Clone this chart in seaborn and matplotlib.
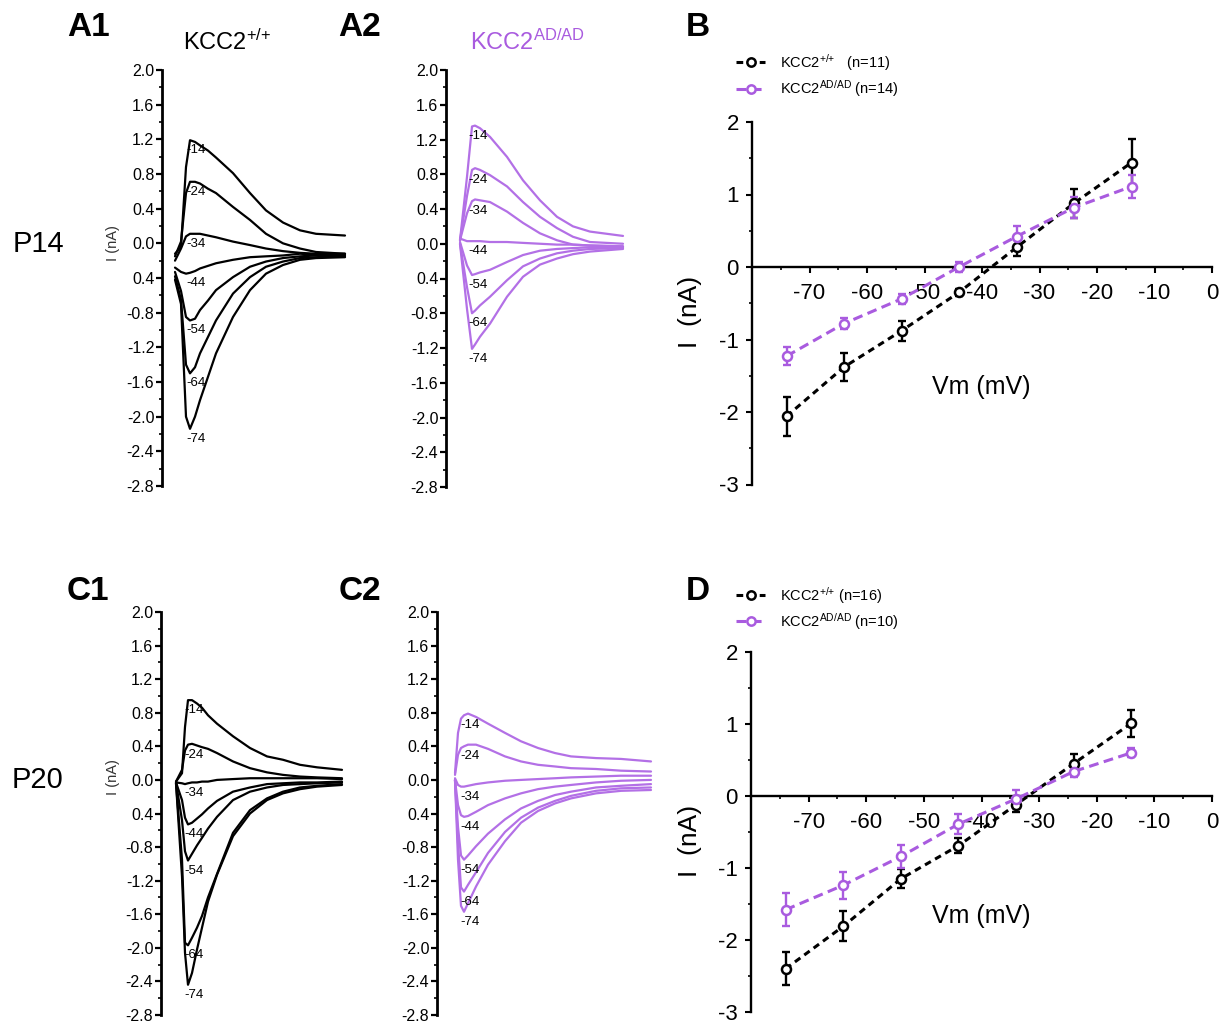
import numpy as np
import pandas as pd
import matplotlib
matplotlib.use("Agg")
import matplotlib.pyplot as plt
import seaborn as sns
from matplotlib.lines import Line2D
from matplotlib.ticker import FixedLocator, FixedFormatter, MultipleLocator

sns.set_theme(style="ticks")
plt.rcParams["font.family"] = ["Liberation Sans", "DejaVu Sans"]
plt.rcParams["mathtext.fontset"] = "custom"
plt.rcParams["mathtext.rm"] = "Liberation Sans"
plt.rcParams["mathtext.default"] = "regular"
plt.rcParams["axes.unicode_minus"] = False
plt.rcParams["text.color"] = "black"
plt.rcParams["axes.labelcolor"] = "black"

PURPLE = "#A95BDF"
TRACE_PURPLE = "#B370E6"

# voltage step of each trace (mV), top to bottom
steps = [-14, -24, -34, -44, -54, -64, -74]

# trace axis ticks (the -0.4 tick is printed without its minus sign in the original)
trace_ticks = [2.0, 1.6, 1.2, 0.8, 0.4, 0.0, -0.4, -0.8, -1.2, -1.6, -2.0, -2.4, -2.8]
trace_ticklabels = ["2.0", "1.6", "1.2", "0.8", "0.4", "0.0", "0.4", "-0.8",
                    "-1.2", "-1.6", "-2.0", "-2.4", "-2.8"]

# ---- A1: KCC2+/+ at P14 (time in ms, current in nA)
a1_t = [13, 19, 24, 28, 33, 38, 46, 54, 71, 88, 104, 121, 138, 154, 183]
a1_i = [
    [-0.12, -0.04, 0.88, 1.19, 1.17, 1.13, 1.07, 0.99, 0.81, 0.58, 0.38, 0.24, 0.15, 0.11, 0.09],
    [-0.15, 0.02, 0.58, 0.71, 0.71, 0.69, 0.63, 0.58, 0.42, 0.27, 0.11, 0.00, -0.06, -0.10, -0.12],
    [-0.20, -0.06, 0.08, 0.11, 0.11, 0.11, 0.09, 0.07, 0.02, -0.02, -0.06, -0.09, -0.11, -0.12, -0.12],
    [-0.28, -0.33, -0.35, -0.34, -0.32, -0.29, -0.26, -0.23, -0.19, -0.16, -0.15, -0.14, -0.12, -0.13, -0.13],
    [-0.33, -0.55, -0.85, -0.89, -0.87, -0.77, -0.66, -0.54, -0.39, -0.27, -0.21, -0.17, -0.15, -0.14, -0.14],
    [-0.38, -0.65, -1.40, -1.50, -1.43, -1.27, -1.08, -0.89, -0.58, -0.39, -0.27, -0.21, -0.17, -0.16, -0.15],
    [-0.42, -0.70, -2.00, -2.14, -2.00, -1.81, -1.54, -1.27, -0.85, -0.54, -0.35, -0.25, -0.19, -0.17, -0.16],
]

# ---- A2: KCC2AD/AD at P14
a2_t = [14, 21, 26, 29, 34, 44, 61, 77, 94, 111, 127, 144, 177]
a2_i = [
    [0.04, 0.77, 1.35, 1.36, 1.33, 1.23, 1.00, 0.73, 0.50, 0.31, 0.20, 0.14, 0.09],
    [0.04, 0.55, 0.85, 0.87, 0.85, 0.79, 0.66, 0.48, 0.31, 0.18, 0.08, 0.02, 0.00],
    [0.04, 0.35, 0.49, 0.51, 0.50, 0.48, 0.37, 0.24, 0.12, 0.04, -0.01, -0.02, -0.03],
    [0.06, 0.03, 0.03, 0.03, 0.03, 0.02, 0.02, 0.01, 0.00, -0.01, -0.01, -0.02, -0.03],
    [0.02, -0.25, -0.36, -0.35, -0.33, -0.30, -0.21, -0.13, -0.08, -0.06, -0.05, -0.04, -0.04],
    [0.00, -0.50, -0.80, -0.77, -0.71, -0.61, -0.42, -0.26, -0.17, -0.11, -0.08, -0.06, -0.05],
    [0.00, -0.75, -1.21, -1.16, -1.07, -0.92, -0.61, -0.38, -0.24, -0.17, -0.12, -0.09, -0.06],
]

# ---- C1: KCC2+/+ at P20
c1_t = [15, 21, 24, 27, 31, 36, 41, 47, 56, 72, 89, 106, 122, 139, 156, 181]
c1_i = [
    [-0.02, 0.08, 0.63, 0.95, 0.95, 0.91, 0.86, 0.77, 0.67, 0.52, 0.38, 0.28, 0.24, 0.18, 0.15, 0.12],
    [-0.02, 0.12, 0.35, 0.42, 0.43, 0.41, 0.39, 0.37, 0.32, 0.22, 0.14, 0.09, 0.06, 0.04, 0.03, 0.02],
    [-0.03, -0.04, -0.05, -0.04, -0.03, -0.03, -0.02, -0.02, 0.00, 0.01, 0.02, 0.02, 0.02, 0.02, 0.02, 0.01],
    [-0.03, -0.24, -0.45, -0.53, -0.51, -0.46, -0.41, -0.34, -0.25, -0.14, -0.09, -0.05, -0.04, -0.03, -0.03, -0.02],
    [-0.03, -0.48, -0.85, -0.96, -0.88, -0.78, -0.69, -0.58, -0.44, -0.24, -0.14, -0.09, -0.06, -0.05, -0.04, -0.03],
    [-0.04, -0.95, -1.94, -1.97, -1.88, -1.76, -1.62, -1.40, -1.12, -0.63, -0.36, -0.22, -0.14, -0.09, -0.07, -0.05],
    [-0.04, -1.15, -2.06, -2.44, -2.30, -2.02, -1.76, -1.45, -1.13, -0.67, -0.40, -0.24, -0.16, -0.11, -0.08, -0.06],
]

# ---- C2: KCC2AD/AD at P20
c2_t = [18, 21, 24, 27, 31, 39, 51, 68, 84, 101, 118, 134, 159, 184, 214]
c2_i = [
    [0.08, 0.56, 0.73, 0.77, 0.79, 0.75, 0.67, 0.56, 0.46, 0.38, 0.32, 0.28, 0.26, 0.25, 0.22],
    [0.06, 0.30, 0.38, 0.40, 0.42, 0.42, 0.37, 0.28, 0.22, 0.18, 0.16, 0.14, 0.13, 0.11, 0.10],
    [0.02, -0.06, -0.08, -0.08, -0.07, -0.05, -0.03, -0.01, 0.00, 0.01, 0.02, 0.03, 0.04, 0.05, 0.05],
    [0.00, -0.30, -0.42, -0.44, -0.43, -0.38, -0.30, -0.22, -0.16, -0.11, -0.08, -0.06, -0.03, -0.01, 0.00],
    [0.00, -0.56, -0.90, -0.95, -0.90, -0.79, -0.64, -0.47, -0.34, -0.25, -0.18, -0.14, -0.09, -0.07, -0.05],
    [0.00, -0.75, -1.28, -1.33, -1.25, -1.10, -0.87, -0.62, -0.45, -0.33, -0.25, -0.19, -0.13, -0.10, -0.09],
    [0.00, -0.95, -1.50, -1.57, -1.47, -1.27, -1.01, -0.73, -0.51, -0.37, -0.28, -0.22, -0.16, -0.13, -0.12],
]

# ---- I-V curves (mean +/- SEM, nA)
vm = [-74, -64, -54, -44, -34, -24, -14]
b_wt = [-2.06, -1.38, -0.88, -0.35, 0.27, 0.88, 1.44]
b_wt_sem = [0.27, 0.19, 0.14, 0.05, 0.12, 0.20, 0.32]
b_ad = [-1.23, -0.78, -0.44, 0.00, 0.42, 0.82, 1.11]
b_ad_sem = [0.12, 0.07, 0.07, 0.07, 0.14, 0.14, 0.16]
d_wt = [-2.40, -1.81, -1.15, -0.69, -0.12, 0.45, 1.01]
d_wt_sem = [0.23, 0.21, 0.13, 0.10, 0.10, 0.13, 0.19]
d_ad = [-1.58, -1.24, -0.84, -0.39, -0.04, 0.34, 0.60]
d_ad_sem = [0.23, 0.19, 0.16, 0.14, 0.12, 0.08, 0.06]

W, H = 1223, 1025
fig = plt.figure(figsize=(W / 100, H / 100), dpi=100)


def box(l, t, r, b):
    return [l / W, 1 - b / H, (r - l) / W, (b - t) / H]


def fx(x):
    return x / W


def fy(y):
    return 1 - y / H


def trace_panel(rect, t, currents, color, xmax, pk):
    ax = fig.add_axes(rect)
    df = pd.DataFrame({
        "t": np.tile(t, len(steps)),
        "I": np.concatenate(currents),
        "step": np.repeat(steps, len(t)),
    })
    sns.lineplot(data=df, x="t", y="I", units="step", estimator=None, sort=False,
                 color=color, linewidth=1.6, ax=ax, legend=False)
    for s, cur in zip(steps, currents):
        ax.annotate(str(s), xy=(t[pk], cur[pk]), xytext=(6, -10),
                    textcoords="offset pixels", ha="center", va="center",
                    fontsize=9.5, color="black")
    ax.set_xlim(0, xmax)
    ax.set_ylim(-2.8, 2.0)
    ax.set_xlabel("")
    ax.set_ylabel("")
    ax.set_xticks([])
    for side in ["top", "right", "bottom"]:
        ax.spines[side].set_visible(False)
    ax.spines["left"].set_linewidth(2.0)
    ax.spines["left"].set_color("black")
    ax.yaxis.set_major_locator(FixedLocator(trace_ticks))
    ax.yaxis.set_major_formatter(FixedFormatter(trace_ticklabels))
    ax.yaxis.set_minor_locator(MultipleLocator(0.2))
    ax.tick_params(axis="y", which="major", length=4, width=1.6, pad=1.5,
                   labelsize=11.5, colors="black", direction="out")
    ax.tick_params(axis="y", which="minor", length=2.2, width=1.4, direction="out")
    ax.set_facecolor("none")
    return ax


def iv_panel(rect, wt, wt_sem, ad, ad_sem):
    ax = fig.add_axes(rect)
    for vals, sem, c, dash in [(wt, wt_sem, "black", (2.2, 1.6)),
                               (ad, ad_sem, PURPLE, (3.2, 1.8))]:
        ax.errorbar(vm, vals, yerr=sem, fmt="none", ecolor=c, elinewidth=1.7,
                    capsize=2.6, capthick=1.7, zorder=3)
        sns.lineplot(x=vm, y=vals, ax=ax, color=c, linewidth=2.2,
                     linestyle=(0, dash), marker="o", markersize=6.5,
                     markerfacecolor="white", markeredgecolor=c,
                     markeredgewidth=1.8, zorder=4)
    ax.set_xlim(-80, 0)
    ax.set_ylim(-3, 2)
    ax.set_xlabel("")
    ax.set_ylabel("")
    for side in ["top", "right"]:
        ax.spines[side].set_visible(False)
    ax.spines["bottom"].set_position(("data", 0))
    for side in ["left", "bottom"]:
        ax.spines[side].set_linewidth(1.7)
        ax.spines[side].set_color("black")
    ax.xaxis.set_major_locator(FixedLocator([-70, -60, -50, -40, -30, -20, -10, 0]))
    ax.xaxis.set_minor_locator(FixedLocator([-75, -65, -55, -45, -35, -25, -15, -5]))
    ax.yaxis.set_major_locator(FixedLocator([-3, -2, -1, 0, 1, 2]))
    ax.yaxis.set_minor_locator(FixedLocator([-2.5, -1.5, -0.5, 0.5, 1.5]))
    ax.tick_params(which="major", length=4.5, width=1.5, labelsize=16,
                   colors="black", direction="out")
    ax.tick_params(axis="x", which="major", pad=7)
    ax.tick_params(axis="y", which="major", pad=5)
    ax.tick_params(which="minor", length=2.2, width=1.4, direction="out")
    ax.set_facecolor("none")
    return ax


trace_panel(box(162, 70, 352, 486), a1_t, a1_i, "black", 190, 3)
trace_panel(box(446, 70, 626, 487), a2_t, a2_i, TRACE_PURPLE, 180, 2)
trace_panel(box(161, 612, 351, 1015), c1_t, c1_i, "black", 190, 3)
trace_panel(box(437, 612, 653, 1015), c2_t, c2_i, TRACE_PURPLE, 216, 3)

iv_panel(box(752, 122, 1212, 484.5), b_wt, b_wt_sem, b_ad, b_ad_sem)
iv_panel(box(751, 652, 1212, 1012), d_wt, d_wt_sem, d_ad, d_ad_sem)

WT = r"KCC2$^{{+}/{+}}$"
AD = r"KCC2$^{AD/AD}$"

# axis labels
for y in [243, 777]:
    fig.text(fx(113), fy(y), "I (nA)", rotation=90, ha="center", va="center",
             fontsize=10.5, color="#333333")
for y0 in [267, 796]:
    fig.text(fx(981), fy(y0 + 120), "Vm (mV)", ha="center", va="center", fontsize=18)
    fig.text(fx(690), fy(y0 + 45), "I  (nA)", rotation=90, ha="center", va="center",
             fontsize=19)

# panel letters and row labels
for txt, x, y in [("A1", 88, 27), ("A2", 360, 27), ("B", 698, 27),
                  ("C1", 88, 592), ("C2", 360, 592), ("D", 698, 592)]:
    fig.text(fx(x), fy(y), txt, ha="center", va="center", fontsize=24,
             fontweight="bold")
fig.text(fx(38), fy(244), "P14", ha="center", va="center", fontsize=21)
fig.text(fx(38), fy(780), "P20", ha="center", va="center", fontsize=21)

fig.text(fx(227), fy(42), WT, ha="center", va="center", fontsize=17)
fig.text(fx(527), fy(42), AD, ha="center", va="center", fontsize=17, color=PURPLE)


# legends
def handles():
    return [Line2D([0], [0], color=c, linewidth=2.2, linestyle=(0, d), marker="o",
                   markersize=6, markerfacecolor="white", markeredgecolor=c,
                   markeredgewidth=1.8)
            for c, d in [("black", (2.2, 1.6)), (PURPLE, (3.2, 1.8))]]


for top, labels in [(52, [WT + "   (n=11)", AD + " (n=14)"]),
                    (585, [WT + " (n=16)", AD + " (n=10)"])]:
    fig.legend(handles(), labels, loc="upper left",
               bbox_to_anchor=(fx(736), fy(top)), frameon=False, fontsize=10.5,
               handlelength=2.0, handletextpad=1.0, labelspacing=0.35,
               borderpad=0, borderaxespad=0)

fig.savefig("out.png", dpi=100, facecolor="white")
